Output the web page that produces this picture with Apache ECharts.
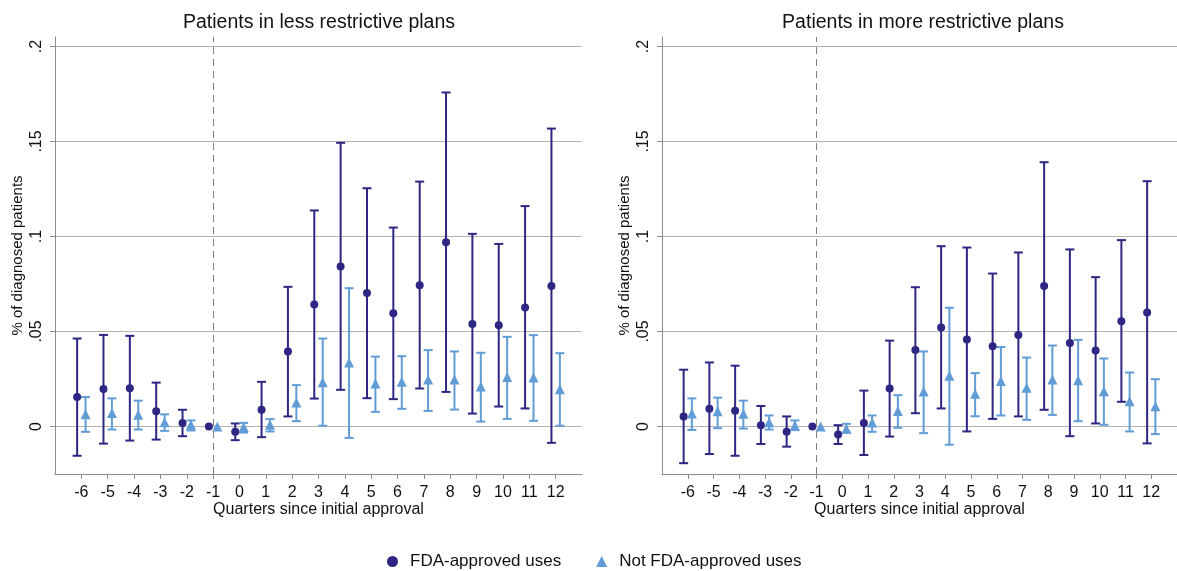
<!DOCTYPE html>
<html>
<head>
<meta charset="utf-8">
<style>
  html, body { margin: 0; padding: 0; background: #fff; }
  #chart { width: 1177px; height: 571px; }
</style>
<script src="https://cdn.jsdelivr.net/npm/echarts@6/dist/echarts.min.js"></script>
</head>
<body>
<div id="chart"></div>
<script>
// Event-study quarters relative to initial approval
const quarters = [-6, -5, -4, -3, -2, -1, 0, 1, 2, 3, 4, 5, 6, 7, 8, 9, 10, 11, 12];

// Patients in less restrictive plans: FDA-approved uses
const lessFdaEst = [0.0155, 0.0197, 0.0201, 0.0080, 0.0018, 0, -0.0028, 0.0088, 0.0395, 0.0642, 0.0842, 0.0702, 0.0596, 0.0744, 0.0970, 0.0540, 0.0533, 0.0626, 0.0740];
const lessFdaLo  = [-0.0154, -0.0090, -0.0074, -0.0069, -0.0051, null, -0.0072, -0.0056, 0.0053, 0.0147, 0.0193, 0.0149, 0.0144, 0.0200, 0.0182, 0.0068, 0.0105, 0.0095, -0.0086];
const lessFdaHi  = [0.0463, 0.0482, 0.0477, 0.0231, 0.0088, null, 0.0016, 0.0235, 0.0735, 0.1137, 0.1493, 0.1254, 0.1047, 0.1289, 0.1758, 0.1014, 0.0961, 0.1160, 0.1568];

// Patients in less restrictive plans: not FDA-approved uses
const lessOffEst = [0.0065, 0.0071, 0.0062, 0.0023, 0.0009, 0, -0.0002, 0.0009, 0.0126, 0.0233, 0.0337, 0.0226, 0.0235, 0.0247, 0.0247, 0.0211, 0.0260, 0.0258, 0.0196];
const lessOffLo  = [-0.0028, -0.0016, -0.0016, -0.0023, -0.0021, null, -0.0032, -0.0026, 0.0028, 0.0004, -0.0060, 0.0077, 0.0093, 0.0082, 0.0089, 0.0026, 0.0040, 0.0030, 0.0004];
const lessOffHi  = [0.0155, 0.0148, 0.0136, 0.0064, 0.0032, null, 0.0019, 0.0039, 0.0218, 0.0463, 0.0728, 0.0368, 0.0370, 0.0402, 0.0395, 0.0388, 0.0472, 0.0481, 0.0386];

// Patients in more restrictive plans: FDA-approved uses
const moreFdaEst = [0.0053, 0.0094, 0.0083, 0.0007, -0.0028, 0, -0.0042, 0.0018, 0.0200, 0.0402, 0.0521, 0.0458, 0.0423, 0.0482, 0.0740, 0.0440, 0.0400, 0.0554, 0.0600];
const moreFdaLo  = [-0.0193, -0.0145, -0.0154, -0.0092, -0.0106, null, -0.0092, -0.0150, -0.0053, 0.0070, 0.0095, -0.0026, 0.0040, 0.0053, 0.0088, -0.0051, 0.0016, 0.0130, -0.0089];
const moreFdaHi  = [0.0299, 0.0337, 0.0320, 0.0108, 0.0053, null, 0.0007, 0.0189, 0.0452, 0.0733, 0.0949, 0.0942, 0.0805, 0.0916, 0.1391, 0.0932, 0.0786, 0.0981, 0.1291];

// Patients in more restrictive plans: not FDA-approved uses
const moreOffEst = [0.0069, 0.0080, 0.0067, 0.0023, 0.0005, 0, -0.0012, 0.0021, 0.0082, 0.0184, 0.0267, 0.0172, 0.0240, 0.0204, 0.0247, 0.0244, 0.0186, 0.0133, 0.0107];
const moreOffLo  = [-0.0018, -0.0009, -0.0011, -0.0016, -0.0019, null, -0.0032, -0.0028, -0.0007, -0.0035, -0.0096, 0.0054, 0.0058, 0.0035, 0.0061, 0.0028, 0.0009, -0.0026, -0.0040];
const moreOffHi  = [0.0148, 0.0152, 0.0136, 0.0058, 0.0032, null, 0.0014, 0.0058, 0.0165, 0.0395, 0.0625, 0.0281, 0.0418, 0.0363, 0.0426, 0.0456, 0.0358, 0.0284, 0.0249];

// Axis labels
const yTicks = [0, 0.05, 0.1, 0.15, 0.2];
const yTickLabels = ['0', '.05', '.1', '.15', '.2'];
const panelTitles = ['Patients in less restrictive plans', 'Patients in more restrictive plans'];
const xAxisTitle = 'Quarters since initial approval';
const yAxisTitle = '% of diagnosed patients';
const seriesNames = ['FDA-approved uses', 'Not FDA-approved uses'];

const FONT = '"Liberation Sans", Arial, Helvetica, sans-serif';
const DARK = '#2d2683';
const LIGHT = '#619cd6';
const AXIS = '#8c8c8c';
const GRIDC = '#b3b3b3';
const TEXT = '#111111';
const SHIFT = 0.16;   // horizontal dodge of the two estimates per quarter

const chart = echarts.init(document.getElementById('chart'), null, { renderer: 'canvas' });

function errorBarData(lo, hi, shift) {
  const out = [];
  quarters.forEach((q, i) => {
    if (lo[i] !== null && hi[i] !== null) out.push([q + shift, lo[i], hi[i]]);
  });
  return out;
}
function pointData(est, shift) {
  return quarters.map((q, i) => [q + shift, est[i]]);
}
function errorBarSeries(idx, lo, hi, shift, color, withRef) {
  const s = {
    type: 'custom',
    xAxisIndex: idx,
    yAxisIndex: idx,
    silent: true,
    z: 2,
    encode: { x: 0, y: [1, 2] },
    data: errorBarData(lo, hi, shift),
    renderItem: function (params, api) {
      const x = api.value(0);
      const pLo = api.coord([x, api.value(1)]);
      const pHi = api.coord([x, api.value(2)]);
      const cap = 4.5;
      const style = { stroke: color, lineWidth: 2, fill: null };
      return {
        type: 'group',
        children: [
          { type: 'line', shape: { x1: pLo[0], y1: pLo[1], x2: pHi[0], y2: pHi[1] }, style: style },
          { type: 'line', shape: { x1: pLo[0] - cap, y1: pLo[1], x2: pLo[0] + cap, y2: pLo[1] }, style: style },
          { type: 'line', shape: { x1: pHi[0] - cap, y1: pHi[1], x2: pHi[0] + cap, y2: pHi[1] }, style: style }
        ]
      };
    }
  };
  if (withRef) {
    // dashed reference line at the quarter before approval
    s.markLine = {
      silent: true,
      symbol: ['none', 'none'],
      label: { show: false },
      lineStyle: { color: '#7f7f7f', width: 1, type: [7, 5] },
      data: [{ xAxis: -1 }]
    };
  }
  return s;
}
function pointSeries(idx, name, est, shift, color, symbol, size) {
  return {
    type: 'scatter',
    name: name,
    xAxisIndex: idx,
    yAxisIndex: idx,
    symbol: symbol,
    symbolSize: size,
    z: 3,
    itemStyle: { color: color, opacity: 1 },
    emphasis: { disabled: true },
    data: pointData(est, shift)
  };
}

const grids = [
  { left: 55, top: 37, width: 527, height: 437 },
  { left: 662, top: 37, width: 520, height: 437 }
];

const xAxes = grids.map((g, i) => ({
  type: 'value',
  gridIndex: i,
  min: -7,
  max: 13,
  name: xAxisTitle,
  nameLocation: 'middle',
  nameGap: 28,
  nameMoveOverlap: false,
  nameTextStyle: { fontFamily: FONT, fontSize: 16, color: TEXT },
  axisLine: { show: true, onZero: false, lineStyle: { color: AXIS, width: 1 } },
  axisTick: { show: true, length: 5, customValues: quarters, lineStyle: { color: AXIS } },
  axisLabel: {
    customValues: quarters,
    margin: 11,
    fontFamily: FONT, fontSize: 16, color: TEXT
  },
  splitLine: { show: false }
}));

const yAxes = grids.map((g, i) => ({
  type: 'value',
  gridIndex: i,
  min: -0.025,
  max: 0.205,
  name: yAxisTitle,
  nameLocation: 'middle',
  nameRotate: 90,
  nameGap: 30,
  nameMoveOverlap: false,
  nameTextStyle: { fontFamily: FONT, fontSize: 15, color: TEXT },
  axisLine: { show: true, onZero: false, lineStyle: { color: AXIS, width: 1 } },
  axisTick: { show: true, length: 5, customValues: yTicks, lineStyle: { color: AXIS } },
  axisLabel: {
    customValues: yTicks,
    rotate: 90,
    margin: 10,
    fontFamily: FONT, fontSize: 16, color: TEXT,
    formatter: function (v) {
      const k = yTicks.findIndex(t => Math.abs(t - v) < 1e-9);
      return k >= 0 ? yTickLabels[k] : '';
    }
  },
  splitLine: { show: true, customValues: yTicks, lineStyle: { color: GRIDC, width: 1.2 } }
}));

const option = {
  backgroundColor: '#ffffff',
  animation: false,
  textStyle: { fontFamily: FONT },
  title: [
    { text: panelTitles[0], left: 314, top: 8, textAlign: 'center',
      textStyle: { fontFamily: FONT, fontSize: 19.5, fontWeight: 'normal', color: TEXT } },
    { text: panelTitles[1], left: 918, top: 8, textAlign: 'center',
      textStyle: { fontFamily: FONT, fontSize: 19.5, fontWeight: 'normal', color: TEXT } }
  ],
  legend: {
    top: 548,
    left: 382,
    itemGap: 35,
    itemWidth: 11,
    itemHeight: 11,
    textStyle: { fontFamily: FONT, fontSize: 17, color: TEXT, padding: [0, 0, 0, 7] },
    data: [
      { name: seriesNames[0], icon: 'circle' },
      { name: seriesNames[1], icon: 'triangle' }
    ]
  },
  grid: grids,
  xAxis: xAxes,
  yAxis: yAxes,
  series: [
    errorBarSeries(0, lessFdaLo, lessFdaHi, -SHIFT, DARK, true),
    errorBarSeries(0, lessOffLo, lessOffHi, SHIFT, LIGHT, false),
    pointSeries(0, seriesNames[0], lessFdaEst, -SHIFT, DARK, 'circle', 8),
    pointSeries(0, seriesNames[1], lessOffEst, SHIFT, LIGHT, 'triangle', 10),
    errorBarSeries(1, moreFdaLo, moreFdaHi, -SHIFT, DARK, true),
    errorBarSeries(1, moreOffLo, moreOffHi, SHIFT, LIGHT, false),
    pointSeries(1, seriesNames[0], moreFdaEst, -SHIFT, DARK, 'circle', 8),
    pointSeries(1, seriesNames[1], moreOffEst, SHIFT, LIGHT, 'triangle', 10)
  ]
};

chart.setOption(option);
</script>
</body>
</html>
